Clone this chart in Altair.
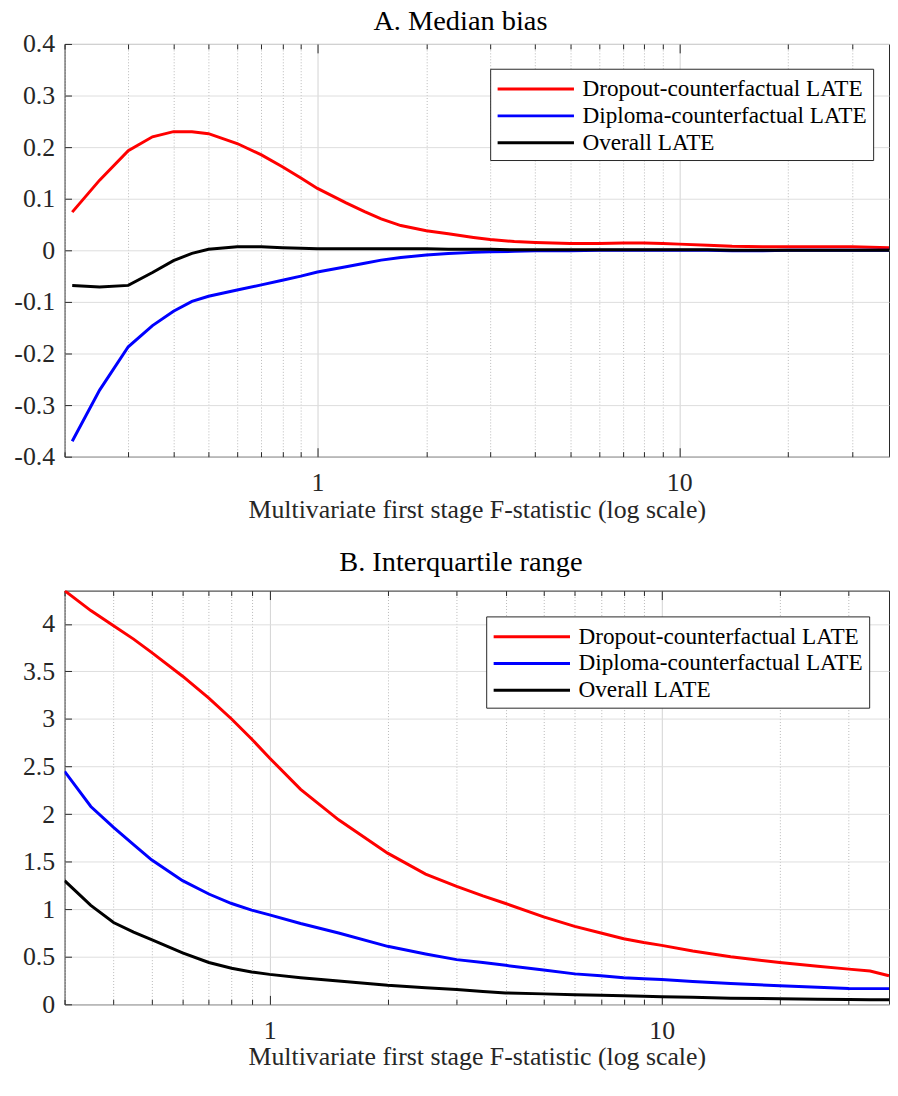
import altair as alt
import pandas as pd

SERIES = ["Dropout-counterfactual LATE", "Diploma-counterfactual LATE", "Overall LATE"]
COLORS = ["#ff0000", "#0000ff", "#000000"]

# Panel A: median bias
F_A = [0.21, 0.25, 0.30, 0.35, 0.40, 0.45, 0.50, 0.60, 0.70, 0.80, 0.90, 1.0, 1.2, 1.35,
       1.5, 1.7, 2.0, 2.3, 2.7, 3.0, 3.5, 4.0, 5.0, 6.0, 7.0, 8.0, 9.0, 10, 12, 14, 17, 20,
       25, 30, 38]
A_DROPOUT = [0.074, 0.136, 0.193, 0.220, 0.230, 0.230, 0.226, 0.207, 0.185, 0.162, 0.140,
             0.120, 0.092, 0.075, 0.061, 0.048, 0.038, 0.032, 0.025, 0.021, 0.017, 0.015,
             0.013, 0.013, 0.014, 0.014, 0.013, 0.012, 0.010, 0.008, 0.007, 0.007, 0.007,
             0.007, 0.005]
A_DIPLOMA = [-0.370, -0.271, -0.187, -0.146, -0.118, -0.099, -0.089, -0.077, -0.067, -0.058,
             -0.050, -0.042, -0.032, -0.025, -0.019, -0.014, -0.009, -0.006, -0.004, -0.003,
             -0.002, -0.001, -0.001, 0.000, 0.000, 0.000, 0.000, 0.000, 0.000, -0.001,
             -0.001, 0.000, 0.000, 0.000, 0.000]
A_OVERALL = [-0.068, -0.071, -0.068, -0.043, -0.020, -0.006, 0.002, 0.007, 0.007, 0.005,
             0.004, 0.003, 0.003, 0.003, 0.003, 0.003, 0.003, 0.002, 0.002, 0.002, 0.001,
             0.001, 0.001, 0.001, 0.001, 0.001, 0.001, 0.001, 0.001, 0.000, 0.000, 0.000,
             0.000, 0.000, 0.000]

# Panel B: interquartile range
F_B = [0.30, 0.35, 0.40, 0.45, 0.50, 0.60, 0.70, 0.80, 0.90, 1.0, 1.2, 1.5, 2.0, 2.5, 3.0,
       3.5, 4.0, 5.0, 6.0, 7.0, 8.0, 9.0, 10, 12, 15, 20, 25, 30, 34, 38]
B_DROPOUT = [4.35, 4.14, 3.98, 3.84, 3.70, 3.45, 3.22, 3.00, 2.79, 2.59, 2.26, 1.94, 1.59,
             1.37, 1.24, 1.14, 1.06, 0.92, 0.82, 0.75, 0.69, 0.65, 0.62, 0.56, 0.50, 0.44,
             0.40, 0.37, 0.35, 0.30]
B_DIPLOMA = [2.45, 2.08, 1.86, 1.68, 1.52, 1.30, 1.16, 1.06, 0.99, 0.94, 0.85, 0.75, 0.61,
             0.53, 0.47, 0.44, 0.41, 0.36, 0.32, 0.30, 0.28, 0.27, 0.26, 0.24, 0.22, 0.195,
             0.18, 0.167, 0.165, 0.165]
B_OVERALL = [1.30, 1.04, 0.86, 0.76, 0.68, 0.54, 0.44, 0.38, 0.34, 0.315, 0.28, 0.245, 0.20,
             0.175, 0.155, 0.135, 0.12, 0.11, 0.10, 0.095, 0.09, 0.085, 0.08, 0.075, 0.065,
             0.058, 0.053, 0.05, 0.049, 0.048]

X_MAJOR = [1, 10]
X_MINOR = [0.2, 0.3, 0.4, 0.5, 0.6, 0.7, 0.8, 0.9, 2, 3, 4, 5, 6, 7, 8, 9, 20, 30]
Y_TICKS_A = [-0.4, -0.3, -0.2, -0.1, 0, 0.1, 0.2, 0.3, 0.4]
Y_TICKS_B = [0, 0.5, 1, 1.5, 2, 2.5, 3, 3.5, 4]

X_TITLE = "Multivariate first stage  F-statistic (log scale)"
FONT = "Liberation Serif"
INK = "#262626"


def make_df(f, series_values):
    rows = []
    for name, vals in zip(SERIES, series_values):
        for x, v in zip(f, vals):
            rows.append({"F": x, "value": v, "series": name})
    return pd.DataFrame(rows)


def panel(f, series_values, xdom, ydom, yticks, w, h, title, title_dx, title_offset, lx, ly):
    df = make_df(f, series_values)
    minor = [v for v in X_MINOR if xdom[0] <= v <= xdom[1]]
    xsc = alt.Scale(type="log", domain=xdom, nice=False)
    ysc = alt.Scale(domain=ydom, nice=False, zero=False)
    base = alt.Chart(df)

    lines = base.mark_line(strokeWidth=3, clip=True).encode(
        x=alt.X("F:Q", scale=xsc, title=X_TITLE,
                axis=alt.Axis(values=X_MAJOR, orient="bottom", labelExpr="'' + datum.value",
                              grid=True, gridColor="#d2d2d2", gridWidth=1, ticks=False,
                              tickSize=0, domain=False, labelPadding=13, titlePadding=1)),
        y=alt.Y("value:Q", scale=ysc, title=None,
                axis=alt.Axis(values=yticks, orient="left", labelExpr="'' + datum.value",
                              grid=True, gridColor="#dedede", gridWidth=1, ticks=False,
                              tickSize=0, domain=False, labelPadding=10)),
        color=alt.Color("series:N", sort=SERIES,
                        scale=alt.Scale(domain=SERIES, range=COLORS),
                        legend=alt.Legend(title=None, orient="none", legendX=lx, legendY=ly,
                                          direction="vertical",
                                          symbolType="M-1,0L4.92,0", symbolSize=676,
                                          symbolStrokeWidth=3,
                                          labelFont=FONT, labelFontSize=23.4,
                                          labelColor="black", strokeColor=INK,
                                          fillColor="white", padding=6, rowPadding=1,
                                          labelLimit=0, labelOffset=58)),
    )

    minor_grid = base.mark_line(opacity=0).encode(
        x=alt.X("F:Q", scale=xsc, title=None,
                axis=alt.Axis(values=minor, orient="bottom", grid=True, gridDash=[1, 2],
                              gridColor="#b8b8b8", labels=False, ticks=False, domain=False,
                              minExtent=0, maxExtent=0)),
        y=alt.Y("value:Q", scale=ysc, axis=None),
    )

    def xticks(values, orient, size):
        return base.mark_line(opacity=0).encode(
            x=alt.X("F:Q", scale=xsc, title=None,
                    axis=alt.Axis(values=values, orient=orient, offset=-size, tickSize=size,
                                  ticks=True, tickColor=INK, labels=False, grid=False,
                                  domain=False, minExtent=0, maxExtent=0)),
            y=alt.Y("value:Q", scale=ysc, axis=None),
        )

    yticks_layer = base.mark_line(opacity=0).encode(
        x=alt.X("F:Q", scale=xsc, axis=None),
        y=alt.Y("value:Q", scale=ysc, title=None,
                axis=alt.Axis(values=yticks, orient="left", offset=-7, tickSize=7,
                              ticks=True, tickColor=INK, labels=False, grid=False,
                              domain=False, minExtent=0, maxExtent=0)),
    )

    return alt.layer(
        minor_grid, lines,
        xticks(X_MAJOR, "bottom", 9), xticks(minor, "bottom", 5),
        xticks(X_MAJOR, "top", 9), xticks(minor, "top", 5),
        yticks_layer,
    ).resolve_axis(x="independent", y="independent").properties(
        width=w, height=h,
        title=alt.TitleParams(title, font=FONT, fontSize=28.6, fontWeight="normal",
                              color="black", offset=title_offset, dx=title_dx),
    )


panel_a = panel(F_A, [A_DROPOUT, A_DIPLOMA, A_OVERALL], [0.2, 38], [-0.4, 0.4], Y_TICKS_A,
                831, 416, "A. Median bias", -16.5, -5, 429, 25)
panel_b = panel(F_B, [B_DROPOUT, B_DIPLOMA, B_OVERALL], [0.3, 38], [0, 4.35], Y_TICKS_B,
                831, 417, "B. Interquartile range", -16, 14, 425, 26)

chart = alt.concat(panel_a, panel_b, columns=1, spacing=24, align="none").resolve_legend(
    color="independent"
).properties(
    padding={"left": 5, "top": -6, "right": 0, "bottom": 0},
    background="white",
).configure_axis(
    labelFont=FONT, titleFont=FONT, labelFontSize=26, titleFontSize=26,
    labelColor=INK, titleColor=INK, titleFontWeight="normal",
).configure_view(
    stroke=INK, strokeWidth=1,
)

chart.save("out.html", embed_options={"renderer": "svg", "actions": False})
